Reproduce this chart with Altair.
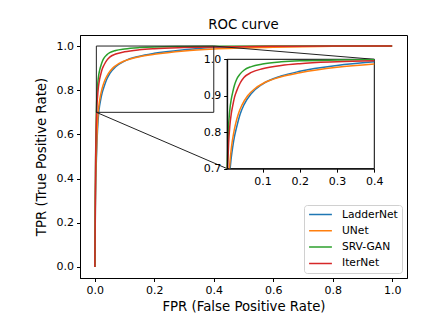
import altair as alt
import pandas as pd

# ---------------- data ----------------
models = ["LadderNet", "UNet", "SRV-GAN", "IterNet"]
colors = ["#1f77b4", "#ff7f0e", "#2ca02c", "#d62728"]

laddernet_fpr = [0, 0.002, 0.006, 0.013, 0.016, 0.02, 0.025, 0.03, 0.04, 0.05, 0.07, 0.1, 0.15, 0.2, 0.3, 0.4, 0.6, 0.8, 1.0]
laddernet_tpr = [0, 0.30, 0.52, 0.70, 0.73, 0.76, 0.79, 0.812, 0.85, 0.875, 0.906, 0.932, 0.954, 0.967, 0.983, 0.993, 0.998, 1.0, 1.0]

unet_fpr = [0, 0.002, 0.006, 0.011, 0.014, 0.018, 0.022, 0.027, 0.035, 0.045, 0.06, 0.08, 0.1, 0.15, 0.2, 0.3, 0.4, 0.6, 0.8, 1.0]
unet_tpr = [0, 0.32, 0.55, 0.70, 0.735, 0.77, 0.795, 0.82, 0.85, 0.875, 0.90, 0.92, 0.933, 0.952, 0.963, 0.978, 0.987, 0.995, 0.999, 1.0]

srvgan_fpr = [0, 0.002, 0.005, 0.008, 0.012, 0.016, 0.02, 0.025, 0.03, 0.04, 0.05, 0.07, 0.1, 0.15, 0.2, 0.3, 0.4, 0.6, 0.8, 1.0]
srvgan_tpr = [0, 0.42, 0.70, 0.80, 0.86, 0.89, 0.91, 0.93, 0.944, 0.96, 0.97, 0.98, 0.987, 0.993, 0.996, 0.998, 0.999, 1.0, 1.0, 1.0]

iternet_fpr = [0, 0.002, 0.006, 0.009, 0.012, 0.016, 0.02, 0.025, 0.03, 0.04, 0.05, 0.07, 0.1, 0.15, 0.2, 0.3, 0.4, 0.6, 0.8, 1.0]
iternet_tpr = [0, 0.40, 0.70, 0.77, 0.815, 0.85, 0.873, 0.897, 0.912, 0.935, 0.95, 0.964, 0.974, 0.983, 0.988, 0.993, 0.996, 0.999, 1.0, 1.0]

main_x_ticks = [0.0, 0.2, 0.4, 0.6, 0.8, 1.0]
main_y_ticks = [0.0, 0.2, 0.4, 0.6, 0.8, 1.0]
inset_x_ticks = [0.1, 0.2, 0.3, 0.4]
inset_y_ticks = [0.7, 0.8, 0.9, 1.0]

# ---------------- layout ----------------
W, H = 327, 243
X_DOM = [-0.05, 1.05]
Y_DOM = [-0.05, 1.05]
INSET_X = [0.005, 0.4]
INSET_Y = [0.7, 1.0]
INSET_FRAC = (0.45, 0.45, 0.45, 0.45)  # left, bottom, width, height (axes fraction)
FONT = "DejaVu Sans"

rows = []
for name, fprs, tprs in [
    ("LadderNet", laddernet_fpr, laddernet_tpr),
    ("UNet", unet_fpr, unet_tpr),
    ("SRV-GAN", srvgan_fpr, srvgan_tpr),
    ("IterNet", iternet_fpr, iternet_tpr),
]:
    for i, (f, t) in enumerate(zip(fprs, tprs)):
        rows.append({"model": name, "fpr": f, "tpr": t, "idx": i})
df = pd.DataFrame(rows)

color = alt.Color(
    "model:N",
    scale=alt.Scale(domain=models, range=colors),
    sort=models,
    legend=alt.Legend(
        title=None, orient="bottom-right", offset=5,
        fillColor="rgba(255,255,255,0.8)", strokeColor="#d0d0d0",
        cornerRadius=3, padding=4, symbolType="stroke", symbolSize=520,
        symbolStrokeWidth=1.5, labelFontSize=10.7, labelFont=FONT,
        labelOffset=9, clipHeight=11, rowPadding=4.3,
    ),
)

xs_main = alt.Scale(domain=X_DOM, nice=False, zero=False)
ys_main = alt.Scale(domain=Y_DOM, nice=False, zero=False)

main_lines = alt.Chart(df).mark_line(strokeWidth=1.5, interpolate="monotone").encode(
    x=alt.X("fpr:Q", scale=xs_main,
            axis=alt.Axis(title="FPR (False Positive Rate)", values=main_x_ticks, format=".1f",
                          orient="bottom", labelFlush=False)),
    y=alt.Y("tpr:Q", scale=ys_main,
            axis=alt.Axis(title="TPR (True Positive Rate)", values=main_y_ticks, format=".1f",
                          orient="left", labelFlush=False)),
    color=color,
    order="idx:Q",
    detail="model:N",
)

# zoom indicator rectangle on the main axes
zoom_df = pd.DataFrame([{"fpr": INSET_X[0], "fpr2": INSET_X[1], "tpr": INSET_Y[0], "tpr2": INSET_Y[1]}])
zoom_rect = alt.Chart(zoom_df).mark_rect(fillOpacity=0, stroke="#222222", strokeWidth=1).encode(
    x=alt.X("fpr:Q", scale=xs_main, axis=None), x2="fpr2:Q",
    y=alt.Y("tpr:Q", scale=ys_main, axis=None), y2="tpr2:Q",
)

# connector lines: zoom rect corners -> inset corners (inset corners in main data coords)
ix0 = X_DOM[0] + INSET_FRAC[0] * (X_DOM[1] - X_DOM[0])
ix1 = X_DOM[0] + (INSET_FRAC[0] + INSET_FRAC[2]) * (X_DOM[1] - X_DOM[0])
iy0 = Y_DOM[0] + INSET_FRAC[1] * (Y_DOM[1] - Y_DOM[0])
iy1 = Y_DOM[0] + (INSET_FRAC[1] + INSET_FRAC[3]) * (Y_DOM[1] - Y_DOM[0])
conn_df = pd.DataFrame([
    {"fpr": INSET_X[0], "tpr": INSET_Y[0], "fpr2": ix0, "tpr2": iy0},
    {"fpr": INSET_X[1], "tpr": INSET_Y[1], "fpr2": ix1, "tpr2": iy1},
])
connectors = alt.Chart(conn_df).mark_rule(color="#222222", strokeWidth=1).encode(
    x=alt.X("fpr:Q", scale=xs_main, axis=None), x2="fpr2:Q",
    y=alt.Y("tpr:Q", scale=ys_main, axis=None), y2="tpr2:Q",
)

# ---------------- inset ----------------
x_lo = INSET_FRAC[0] * W
x_hi = (INSET_FRAC[0] + INSET_FRAC[2]) * W
y_lo = H * (1 - INSET_FRAC[1])
y_hi = H * (1 - INSET_FRAC[1] - INSET_FRAC[3])
xs_in = alt.Scale(domain=INSET_X, range=[x_lo, x_hi], nice=False, zero=False)
ys_in = alt.Scale(domain=INSET_Y, range=[y_lo, y_hi], nice=False, zero=False)

inset_bg = alt.Chart(zoom_df).mark_rect(fill="white", stroke="black", strokeWidth=1).encode(
    x=alt.X("fpr:Q", scale=xs_in,
            axis=alt.Axis(title=None, values=inset_x_ticks, format=".1f", orient="bottom",
                          offset=-(H - y_lo), zindex=1, labelFlush=False, labelOverlap=False)),
    x2="fpr2:Q",
    y=alt.Y("tpr:Q", scale=ys_in,
            axis=alt.Axis(title=None, values=inset_y_ticks, format=".1f", orient="left",
                          offset=-x_lo, zindex=1, labelFlush=False, labelOverlap=False)),
    y2="tpr2:Q",
)

inset_lines = alt.Chart(df).transform_filter(
    (alt.datum.fpr >= INSET_X[0]) & (alt.datum.fpr <= INSET_X[1]) & (alt.datum.tpr >= INSET_Y[0])
).mark_line(strokeWidth=1.5, interpolate="monotone").encode(
    x=alt.X("fpr:Q", scale=xs_in, axis=None),
    y=alt.Y("tpr:Q", scale=ys_in, axis=None),
    color=color,
    order="idx:Q",
    detail="model:N",
)

chart = alt.layer(main_lines, zoom_rect, connectors, inset_bg, inset_lines).resolve_scale(
    x="independent", y="independent"
).properties(
    width=W, height=H,
    title=alt.TitleParams("ROC curve", anchor="middle", offset=4),
    autosize=alt.AutoSizeParams(type="none"),
    padding={"left": 72, "top": 27, "right": 33, "bottom": 35},
).configure_axis(
    labelFont=FONT, titleFont=FONT, labelFontSize=11, titleFontSize=13.3,
    titleFontWeight="normal", labelColor="black", titleColor="black",
    tickColor="black", domainColor="black", tickSize=3.5, labelPadding=3,
    grid=False, domainWidth=1, tickWidth=1,
).configure_axisX(titlePadding=4).configure_axisY(titlePadding=8).configure_view(
    stroke="black", strokeWidth=1
).configure_title(
    font=FONT, fontSize=13.3, fontWeight="normal", color="black"
)

chart.save("out.html", embed_options={"renderer": "svg", "actions": False})
